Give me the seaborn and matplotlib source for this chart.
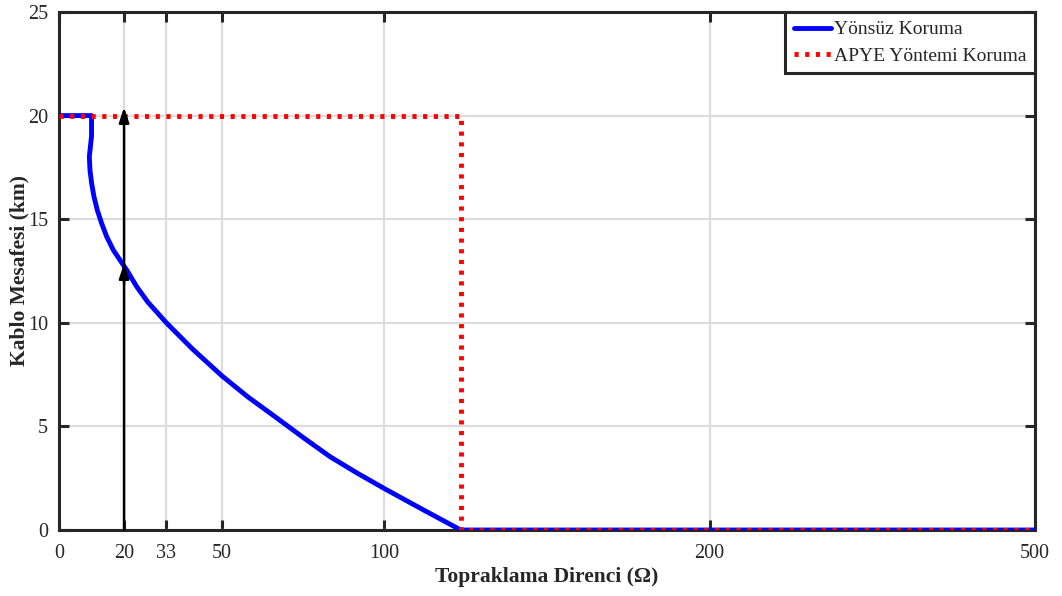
import matplotlib
matplotlib.use("Agg")
import matplotlib.pyplot as plt
import seaborn as sns
import numpy as np

# Data (x in plotting coordinates: 0-200 linear, last tick labelled 500 placed at 300)
blue_x = [0, 10, 10, 9.32, 9.52, 10.03, 10.75, 11.77, 13.1, 14.65, 16.7, 18.74, 20.8, 23.9,
          27.3, 33, 41, 50, 58, 67, 75, 83.3, 91.5, 100, 112, 123.5, 300]
blue_y = [20, 20, 19, 18.02, 17.37, 16.73, 16.09, 15.44, 14.8, 14.16, 13.51, 13.03, 12.55, 11.74,
          11.0, 10, 8.74, 7.45, 6.43, 5.4, 4.47, 3.54, 2.76, 2.0, 0.97, 0, 0]
red_x = [0, 123.5, 123.5, 300]
red_y = [20, 20, 0, 0]
xtick_pos = [0, 20, 33, 50, 100, 200, 300]
xtick_labels = ["0", "20", "33", "50", "100", "200", "500"]
ytick_pos = [0, 5, 10, 15, 20, 25]
arrow_x = 20
arrow_y0, arrow_y1, arrow_mid = 0, 20.4, 12.87
blue_label = "Yönsüz Koruma"
red_label = "APYE Yöntemi Koruma"

sns.set_theme(style="white")
plt.rcParams['font.family'] = ['Liberation Serif', 'DejaVu Serif']

fig = plt.figure(figsize=(10.62, 5.96), dpi=100)
ax = fig.add_axes([59/1062, 66/596, (1035-59)/1062, (530-12)/596])

sns.lineplot(x=blue_x, y=blue_y, sort=False, estimator=None, color="#0000ff",
             linewidth=3.5, ax=ax, label=blue_label, zorder=3)
sns.lineplot(x=red_x, y=red_y, sort=False, estimator=None, color="#ff0000",
             linewidth=3.5, ax=ax, label=red_label, zorder=4)
ax.lines[0].set_solid_joinstyle("round")
ax.lines[1].set_dashes([0.85, 1.35])

ax.set_xlim(0, 300)
ax.set_ylim(0, 25)
ax.set_xticks(xtick_pos)
ax.set_xticklabels(xtick_labels)
ax.set_yticks(ytick_pos)
ax.grid(True, color="#dcdcdc", linewidth=1.6)
ax.set_axisbelow(True)

for s in ax.spines.values():
    s.set_visible(True)
    s.set_color("#262626")
    s.set_linewidth(2.2)
ax.tick_params(direction="in", length=7, width=2.2, color="#262626",
               top=True, right=True, bottom=True, left=True,
               labelsize=14.5, labelcolor="#262626")
ax.tick_params(axis="x", pad=10)
ax.tick_params(axis="y", pad=8)

ax.set_xlabel("Topraklama Direnci (Ω)", fontsize=15.5, fontweight="bold",
              color="#262626")
ax.set_ylabel("Kablo Mesafesi (km)", fontsize=15.5, fontweight="bold",
              color="#262626")
ax.yaxis.set_label_coords(-30/976, 0.5)
ax.xaxis.set_label_coords(0.5, -37/518)

# arrows
astyle = "-|>,head_length=0.75,head_width=0.25"
ax.annotate("", xy=(arrow_x, arrow_y1), xytext=(arrow_x, arrow_y0),
            arrowprops=dict(arrowstyle=astyle, color="black", lw=1.8, mutation_scale=12,
                            shrinkA=0, shrinkB=0), zorder=5)
ax.annotate("", xy=(arrow_x, arrow_mid), xytext=(arrow_x, arrow_mid - 1.0),
            arrowprops=dict(arrowstyle=astyle, color="black", lw=1.8, mutation_scale=12,
                            shrinkA=0, shrinkB=0), zorder=5)

leg = ax.legend(loc="upper right", fontsize=14, frameon=True, fancybox=False,
                borderaxespad=0, handlelength=1.9, handletextpad=0.15,
                borderpad=0.45, labelspacing=0.45)
leg.get_frame().set_edgecolor("#262626")
leg.get_frame().set_linewidth(2.2)
leg.get_frame().set_alpha(1)

fig.savefig("out.png", dpi=100)
